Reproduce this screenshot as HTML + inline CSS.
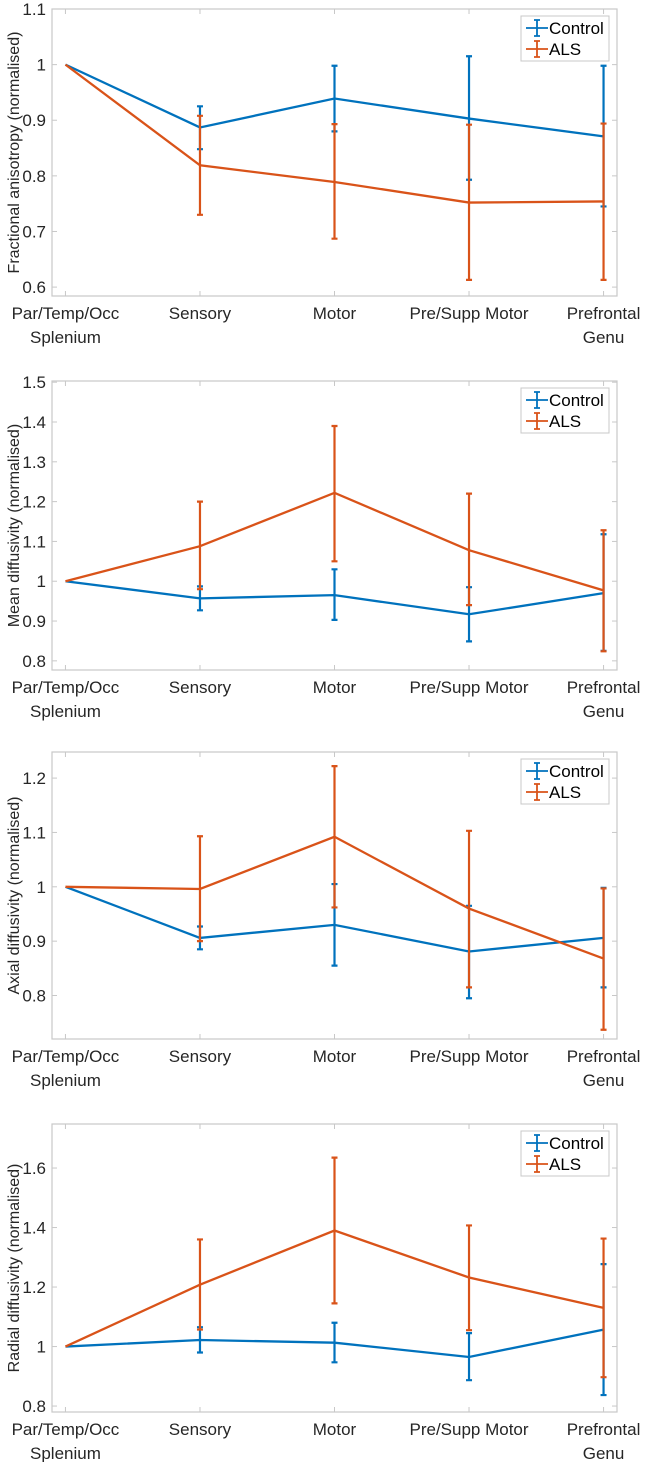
<!DOCTYPE html>
<html><head><meta charset="utf-8"><style>
body{margin:0;background:#fff;}
svg{display:block;font-family:"Liberation Sans",sans-serif;}
</style></head><body>
<svg id="fig" width="647" height="1462"></svg>
<script>
const categories=["Par/Temp/Occ|Splenium","Sensory","Motor","Pre/Supp Motor","Prefrontal|Genu"];
const panelTitles=["Fractional anisotropy (normalised)","Mean diffusivity (normalised)","Axial diffusivity (normalised)","Radial diffusivity (normalised)"];
const faControl=[1,0.887,0.939,0.903,0.871];
const faControlLo=[1,0.848,0.880,0.793,0.745];
const faControlHi=[1,0.925,0.998,1.015,0.998];
const faALS=[1,0.819,0.789,0.752,0.754];
const faALSLo=[1,0.730,0.687,0.613,0.613];
const faALSHi=[1,0.908,0.893,0.892,0.894];
const mdControl=[1,0.957,0.965,0.917,0.970];
const mdControlLo=[1,0.927,0.903,0.849,0.825];
const mdControlHi=[1,0.987,1.030,0.985,1.118];
const mdALS=[1,1.088,1.222,1.078,0.977];
const mdALSLo=[1,0.980,1.050,0.940,0.824];
const mdALSHi=[1,1.200,1.390,1.220,1.128];
const adControl=[1,0.906,0.930,0.881,0.906];
const adControlLo=[1,0.885,0.855,0.795,0.815];
const adControlHi=[1,0.927,1.005,0.965,0.998];
const adALS=[1,0.996,1.092,0.960,0.868];
const adALSLo=[1,0.900,0.962,0.815,0.737];
const adALSHi=[1,1.093,1.222,1.103,0.997];
const rdControl=[1,1.022,1.013,0.965,1.057];
const rdControlLo=[1,0.980,0.947,0.887,0.837];
const rdControlHi=[1,1.065,1.080,1.045,1.277];
const rdALS=[1,1.208,1.390,1.232,1.130];
const rdALSLo=[1,1.057,1.145,1.055,0.897];
const rdALSHi=[1,1.360,1.635,1.407,1.363];
const faTicks=[0.6,0.7,0.8,0.9,1,1.1];
const mdTicks=[0.8,0.9,1,1.1,1.2,1.3,1.4,1.5];
const adTicks=[0.8,0.9,1,1.1,1.2];
const rdTicks=[0.8,1,1.2,1.4,1.6];
const yLims=[[0.584,1.1],[0.777,1.503],[0.72,1.248],[0.78,1.748]];
const legendLabels=["Control","ALS"];

const NS="http://www.w3.org/2000/svg";
const svg=document.getElementById('fig');
function mk(tag,attrs,parent){const e=document.createElementNS(NS,tag);for(const k in attrs)e.setAttribute(k,attrs[k]);(parent||svg).appendChild(e);return e;}
const BLUE="#0072BD",ORANGE="#D95319",AX="#c8c8c8",TX="#262626";
const panels=[
 {top:9,bot:296,c:faControl,cl:faControlLo,ch:faControlHi,a:faALS,al:faALSLo,ah:faALSHi,t:faTicks},
 {top:381,bot:670,c:mdControl,cl:mdControlLo,ch:mdControlHi,a:mdALS,al:mdALSLo,ah:mdALSHi,t:mdTicks},
 {top:752,bot:1039,c:adControl,cl:adControlLo,ch:adControlHi,a:adALS,al:adALSLo,ah:adALSHi,t:adTicks},
 {top:1124,bot:1412,c:rdControl,cl:rdControlLo,ch:rdControlHi,a:rdALS,al:rdALSLo,ah:rdALSHi,t:rdTicks}];
const L=52,R=617;
const xs=i=>L+(i+1-0.9)/(4.2)*(R-L);
panels.forEach((p,pi)=>{
 const g=mk('g',{});
 
 
 const [y0,y1]=yLims[pi];
 const ys=v=>p.bot-(v-y0)/(y1-y0)*(p.bot-p.top);
 const box=mk('rect',{x:L,y:p.top,width:R-L,height:p.bot-p.top,fill:'none',stroke:AX,'stroke-width':1.2},g);
 
 
 p.t.forEach(v=>{
  const y=ys(v);
  mk('line',{x1:L,x2:L+5,y1:y,y2:y,stroke:AX},g);
  mk('line',{x1:R,x2:R-5,y1:y,y2:y,stroke:AX},g);
  const t=mk('text',{x:46,y:y+6,'text-anchor':'end','font-size':17,fill:TX},g);
  t.textContent=String(v);
  
  
 });
 categories.forEach((c,i)=>{
  const x=xs(i);
  mk('line',{x1:x,x2:x,y1:p.bot,y2:p.bot-5,stroke:AX},g);
  mk('line',{x1:x,x2:x,y1:p.top,y2:p.top+5,stroke:AX},g);
  c.split('|').forEach((s,k)=>{
   const t=mk('text',{x:x,y:p.bot+23+k*24,'text-anchor':'middle','font-size':17,fill:TX},g);
   t.textContent=s;
   
   
  });
 });
 const yc=(p.top+p.bot)/2;
 const yl=mk('text',{x:0,y:0,'text-anchor':'middle','font-size':16,fill:TX,transform:`translate(19,${yc}) rotate(-90)`},g);
 yl.textContent=panelTitles[pi];
 
 
 [[p.c,p.cl,p.ch,BLUE,'control'],[p.a,p.al,p.ah,ORANGE,'als']].forEach(([m,lo,hi,col,nm])=>{
  const pts=m.map((v,i)=>xs(i)+','+ys(v)).join(' ');
  const pl=mk('polyline',{points:pts,fill:'none',stroke:col,'stroke-width':2.3},g);
  
  
  m.forEach((v,i)=>{
   if(hi[i]===lo[i])return;
   const x=xs(i);
   const eb=mk('path',{d:`M${x},${ys(lo[i])}V${ys(hi[i])}M${x-3},${ys(lo[i])}H${x+3}M${x-3},${ys(hi[i])}H${x+3}`,stroke:col,'stroke-width':2.2,fill:'none'},g);
   
   
  });
 });
 const lg=mk('g',{},g);
 
 
 const ly=p.top+7;
 mk('rect',{x:521,y:ly,width:88,height:45,fill:'#fff',stroke:AX},lg);
 legendLabels.forEach((lab,k)=>{
  const col=k?ORANGE:BLUE, y=ly+12+k*21;
  mk('path',{d:`M526,${y}H548M537,${y-8}V${y+8}M534,${y-8}H540M534,${y+8}H540`,stroke:col,'stroke-width':1.8,fill:'none'},lg);
  const t=mk('text',{x:549,y:y+6,'font-size':17,fill:'#000'},lg);
  t.textContent=lab;
  
  
 });
});
</script>
</body></html>
